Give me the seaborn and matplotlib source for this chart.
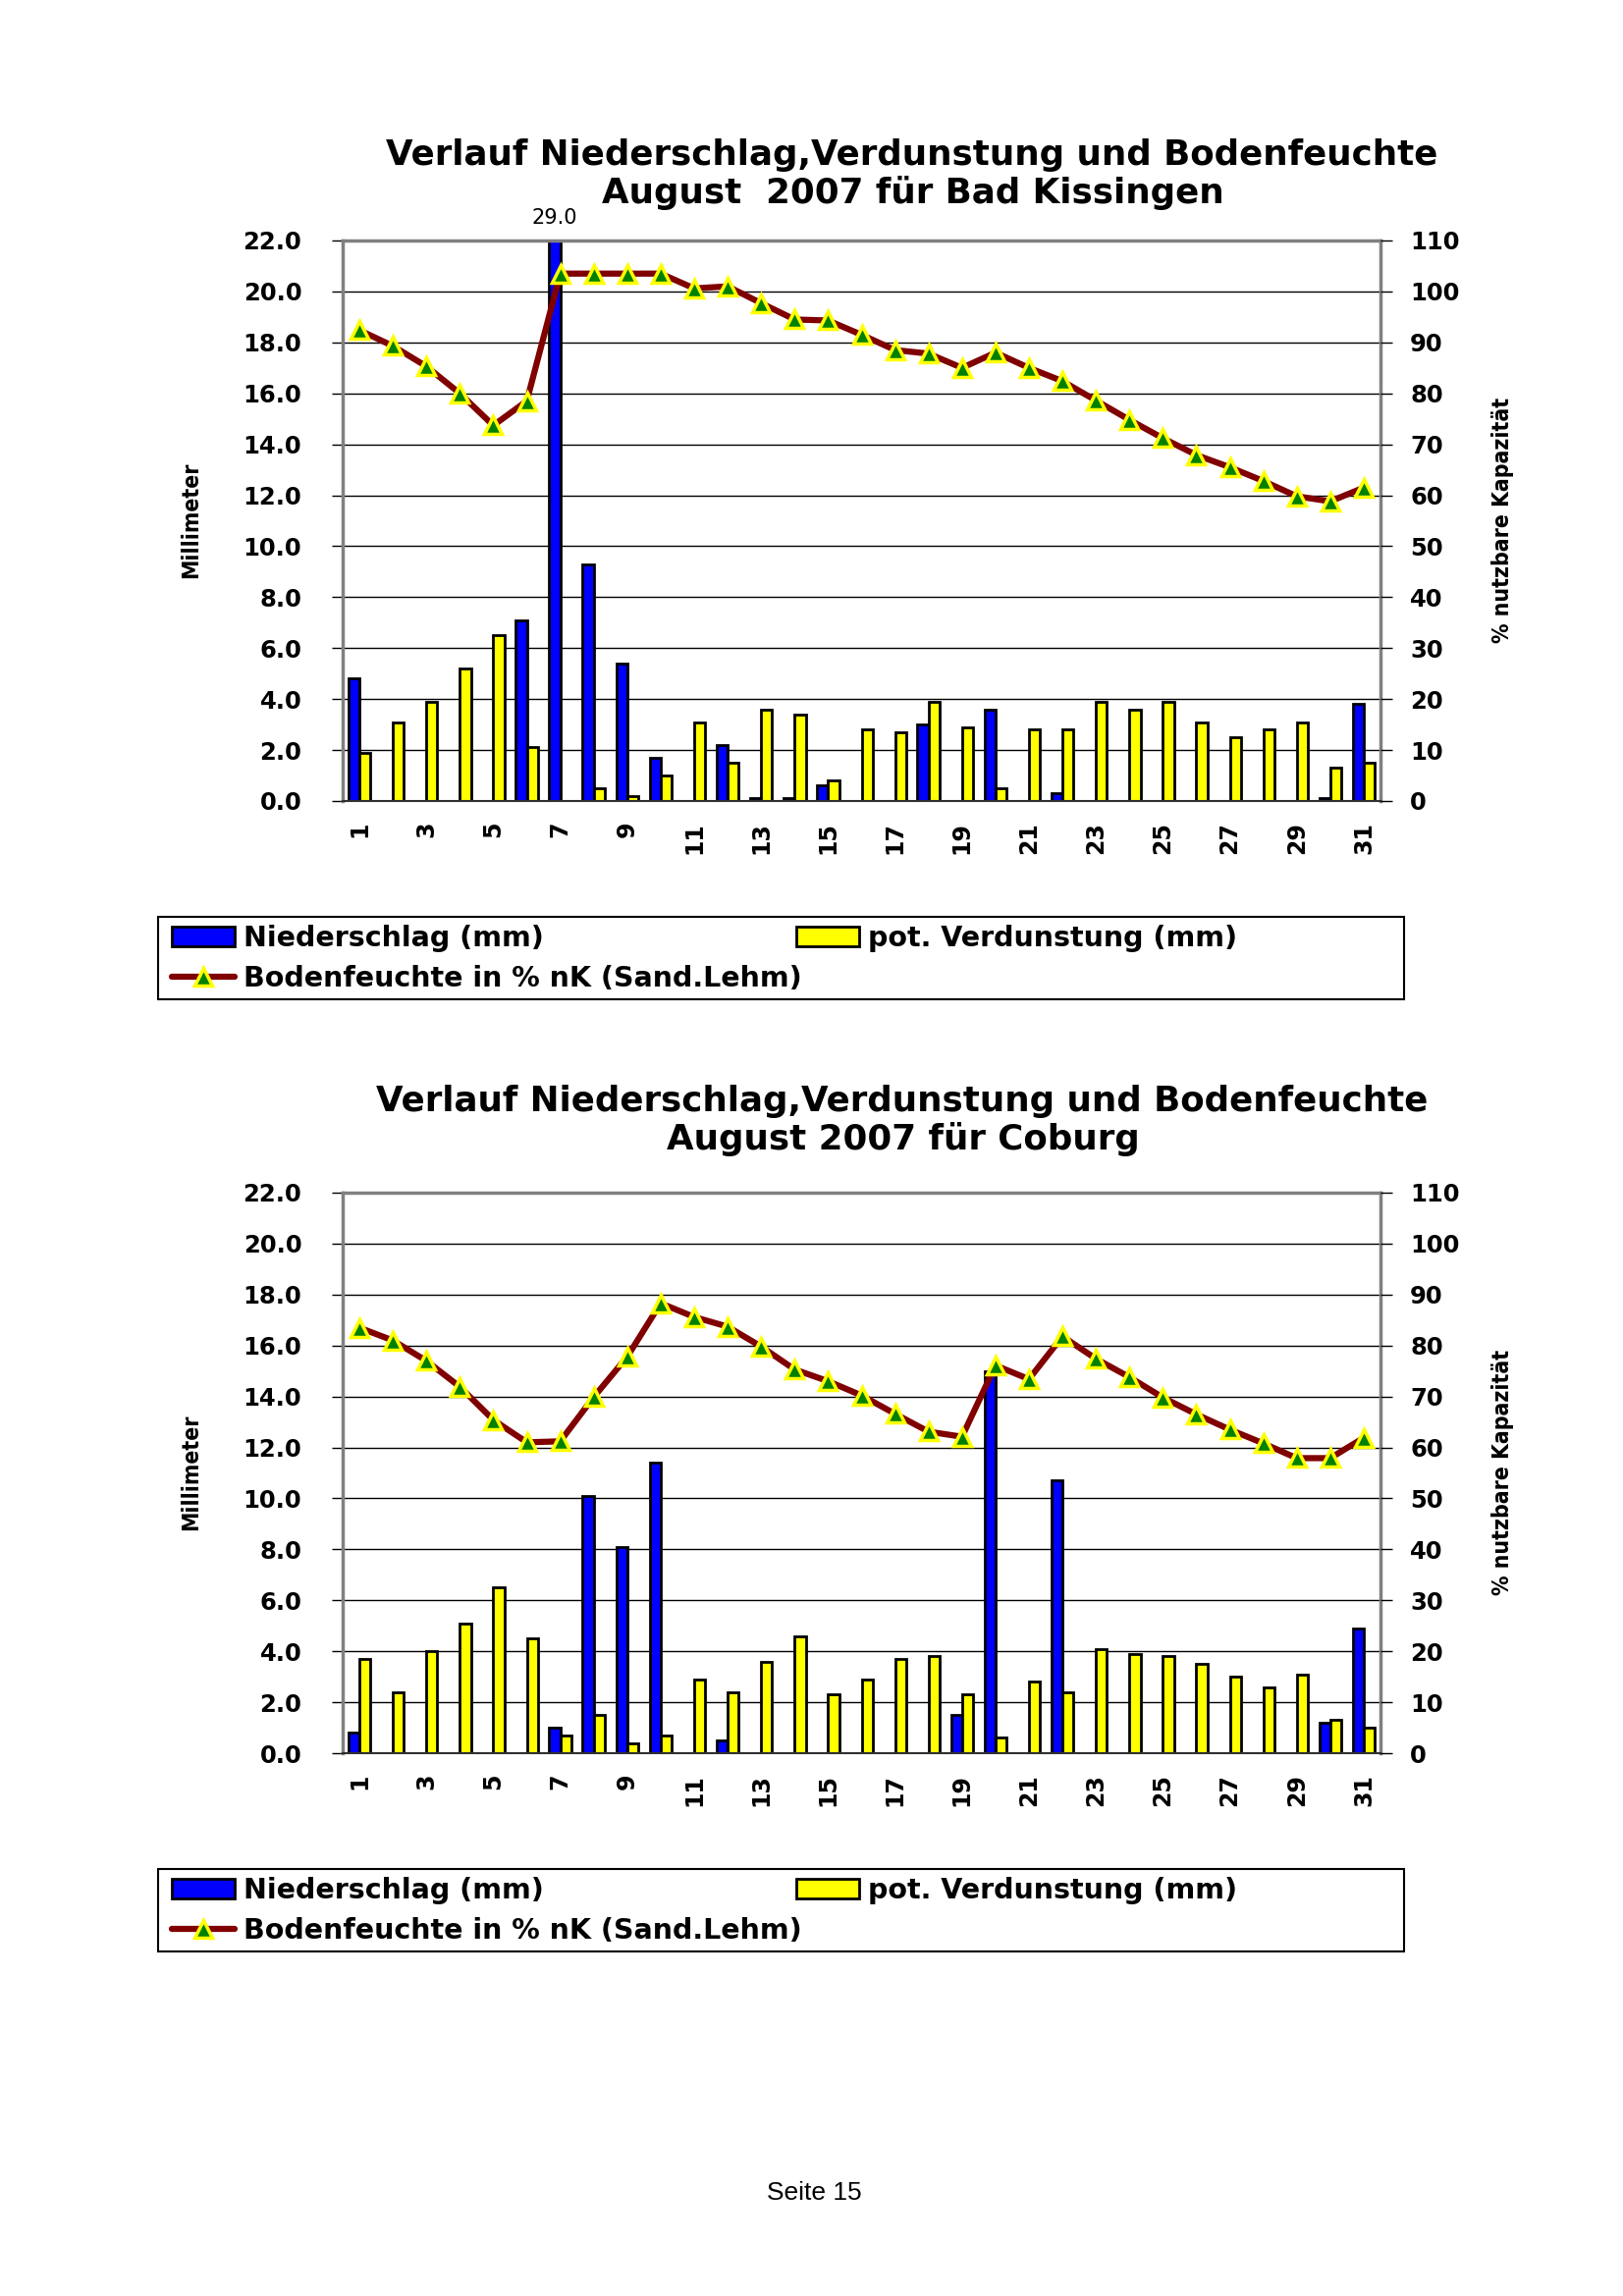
"Niederschlag, Verdunstung und Bodenfeuchte August 2007 - Bad Kissingen und Coburg"
import numpy as np
import pandas as pd
import seaborn as sns
import matplotlib
matplotlib.use('Agg')
import matplotlib.pyplot as plt
from matplotlib.patches import Patch, Rectangle
from matplotlib.lines import Line2D

# ------------------------------------------------ DATA ---------------------------------------------------
days = list(range(1, 32))

# Bad Kissingen
precip_bk = [4.8, 0, 0, 0, 0, 7.1, 29.0, 9.3, 5.4, 1.7, 0, 2.2, 0.1, 0.1, 0.6, 0,
             0, 3.0, 0, 3.6, 0, 0.3, 0, 0, 0, 0, 0, 0, 0, 0.1, 3.8]
evap_bk = [1.9, 3.1, 3.9, 5.2, 6.5, 2.1, 0, 0.5, 0.2, 1.0, 3.1, 1.5, 3.6, 3.4, 0.8, 2.8,
           2.7, 3.9, 2.9, 0.5, 2.8, 2.8, 3.9, 3.6, 3.9, 3.1, 2.5, 2.8, 3.1, 1.3, 1.5]
soil_bk = [92.4, 89.3, 85.3, 80.0, 73.7, 78.5, 103.5, 103.5, 103.5, 103.5, 100.6, 101.0,
           97.7, 94.5, 94.3, 91.5, 88.5, 87.8, 85.0, 88.0, 85.0, 82.4, 78.6, 74.8, 71.2,
           67.9, 65.5, 62.8, 59.8, 58.8, 61.5]

# Coburg
precip_co = [0.8, 0, 0, 0, 0, 0, 1.0, 10.1, 8.1, 11.4, 0, 0.5, 0, 0, 0, 0,
             0, 0, 1.5, 15.0, 0, 10.7, 0, 0, 0, 0, 0, 0, 0, 1.2, 4.9]
evap_co = [3.7, 2.4, 4.0, 5.1, 6.5, 4.5, 0.7, 1.5, 0.4, 0.7, 2.9, 2.4, 3.6, 4.6, 2.3, 2.9,
           3.7, 3.8, 2.3, 0.6, 2.8, 2.4, 4.1, 3.9, 3.8, 3.5, 3.0, 2.6, 3.1, 1.3, 1.0]
soil_co = [83.5, 81.0, 77.0, 71.9, 65.4, 61.0, 61.2, 69.9, 77.8, 88.3, 85.6, 83.7, 79.8,
           75.3, 73.0, 70.2, 66.6, 63.1, 62.1, 76.1, 73.4, 81.8, 77.4, 73.8, 69.8, 66.5,
           63.5, 60.8, 57.9, 57.9, 61.9]

title_line1 = 'Verlauf Niederschlag,Verdunstung und Bodenfeuchte'
title_bk = 'August  2007 für Bad Kissingen'
title_co = 'August 2007 für Coburg'
label_precip = 'Niederschlag (mm)'
label_evap = 'pot. Verdunstung (mm)'
label_soil = 'Bodenfeuchte in % nK (Sand.Lehm)'

BLUE = '#0000FF'
YELLOW = '#FFFF00'
DARKRED = '#800000'
GREEN = '#008000'

W, H = 1653, 2339


def fx(px):
    return px / W


def fy(py):
    return 1 - py / H


# ------------------------------------------------ ONE STATION CHART ---------------------------------------------------
def draw_station(fig, off, t_off, sub_title, precip, evap, soil, t1_x, t2_x):
    top, bottom = 245 + off, 816 + off
    ax = fig.add_axes([fx(349), fy(bottom), fx(1406) - fx(349), (bottom - top) / H])

    df = pd.DataFrame({'Tag': days * 2,
                       'mm': precip + evap,
                       'Reihe': ['N'] * len(days) + ['V'] * len(days)})
    sns.barplot(data=df, x='Tag', y='mm', hue='Reihe', palette={'N': BLUE, 'V': YELLOW},
                width=0.66, saturation=1, edgecolor='black', linewidth=2.0,
                errorbar=None, legend=False, ax=ax)
    ax.set_xlim(-0.5, len(days) - 0.5)
    ax.set_ylim(0, 22)
    ax.set_yticks(np.arange(0, 22.1, 2))
    ax.set_yticklabels(['%.1f' % v for v in np.arange(0, 22.1, 2)])
    ax.set_axisbelow(True)
    ax.yaxis.grid(True, color='black', linewidth=1.0)
    ax.xaxis.grid(False)
    ax.set_xlabel('')
    ax.set_ylabel('')

    ax.set_xticks(range(0, len(days), 2))
    ax.set_xticklabels([str(d) for d in days[::2]], rotation=90)
    ax.set_xticks(np.arange(-0.5, len(days), 1), minor=True)
    ax.tick_params(axis='x', which='major', length=0, pad=15, labelsize=17)
    ax.tick_params(axis='x', which='minor', length=8, width=1, direction='out', color='black')
    ax.tick_params(axis='y', length=8, width=1, pad=22, labelsize=17.5, color='black', left=True)

    for side in ['top', 'right', 'left']:
        ax.spines[side].set_color('#808080')
        ax.spines[side].set_linewidth(2.5)
    ax.spines['bottom'].set_color('#303030')
    ax.spines['bottom'].set_linewidth(1.5)

    # values above the axis limit get their number written on top
    for i, v in enumerate(precip):
        if v > 22:
            ax.annotate('%.1f' % v, xy=(i - 0.165, 22), xytext=(0, 9), textcoords='offset points',
                        ha='center', va='bottom', fontsize=15, fontweight='normal',
                        annotation_clip=False)

    ax2 = ax.twinx()
    sns.lineplot(x=np.arange(len(days)), y=soil, ax=ax2, color=DARKRED, linewidth=4.5,
                 marker='^', markersize=13, markerfacecolor=GREEN, markeredgecolor=YELLOW,
                 markeredgewidth=2.5)
    ax2.set_ylim(0, 110)
    ax2.set_yticks(range(0, 111, 10))
    ax2.set_xlim(-0.5, len(days) - 0.5)
    ax2.tick_params(axis='y', length=8.6, width=1, pad=13, labelsize=17.5, color='black', right=True)
    for side in ['top', 'left', 'bottom', 'right']:
        ax2.spines[side].set_visible(False)

    # titles and axis titles
    fig.text(fx(t1_x), fy(158 + t_off), title_line1, ha='center', va='center', fontsize=25.7)
    fig.text(fx(t2_x), fy(197 + t_off), sub_title, ha='center', va='center', fontsize=25.7)
    fig.text(fx(195), fy(530 + off), 'Millimeter', rotation=90, ha='center', va='center',
             fontsize=16.5, fontstretch='condensed')
    fig.text(fx(1531), fy(530 + off), '% nutzbare Kapazität', rotation=90, ha='center',
             va='center', fontsize=16.5, fontstretch='condensed')

    # legend in its own box below the chart
    fig.patches.append(Rectangle((fx(161), fy(1018 + off)), fx(1430) - fx(161), (1018 - 934) / H,
                                 transform=fig.transFigure, fill=False, edgecolor='black',
                                 linewidth=1.5))
    h_precip = Patch(facecolor=BLUE, edgecolor='black', linewidth=2)
    h_evap = Patch(facecolor=YELLOW, edgecolor='black', linewidth=2)
    h_soil = Line2D([], [], color=DARKRED, linewidth=4.5, marker='^', markersize=13,
                    markerfacecolor=GREEN, markeredgecolor=YELLOW, markeredgewidth=2.5)
    leg_kw = dict(loc='upper left', frameon=False, fontsize=20.5, handlelength=2.25,
                  handletextpad=0.3, labelspacing=0.46, borderpad=0, borderaxespad=0,
                  numpoints=1)
    fig.legend([h_precip, h_soil], [label_precip, label_soil],
               bbox_to_anchor=(fx(175), fy(942 + off)), **leg_kw)
    fig.legend([h_evap], [label_evap], bbox_to_anchor=(fx(811), fy(942 + off)), **leg_kw)
    return ax


def main():
    sns.set_theme(style='white')
    plt.rcParams['font.family'] = ['DejaVu Sans']
    plt.rcParams['font.weight'] = 'bold'
    plt.rcParams['axes.labelweight'] = 'bold'
    for key in ['text.color', 'axes.labelcolor', 'xtick.color', 'ytick.color']:
        plt.rcParams[key] = 'black'

    fig = plt.figure(figsize=(W / 100, H / 100), dpi=100)
    fig.patch.set_facecolor('white')

    draw_station(fig, 0, 0, title_bk, precip_bk, evap_bk, soil_bk, 929, 930)
    draw_station(fig, 970, 964, title_co, precip_co, evap_co, soil_co, 919, 920)

    fig.text(fx(829), fy(2234), 'Seite 15', ha='center', va='center', fontsize=19,
             fontweight='normal', family=['Liberation Sans', 'DejaVu Sans'])

    fig.savefig('out.png', dpi=100, facecolor='white')


if __name__ == "__main__":
    main()
